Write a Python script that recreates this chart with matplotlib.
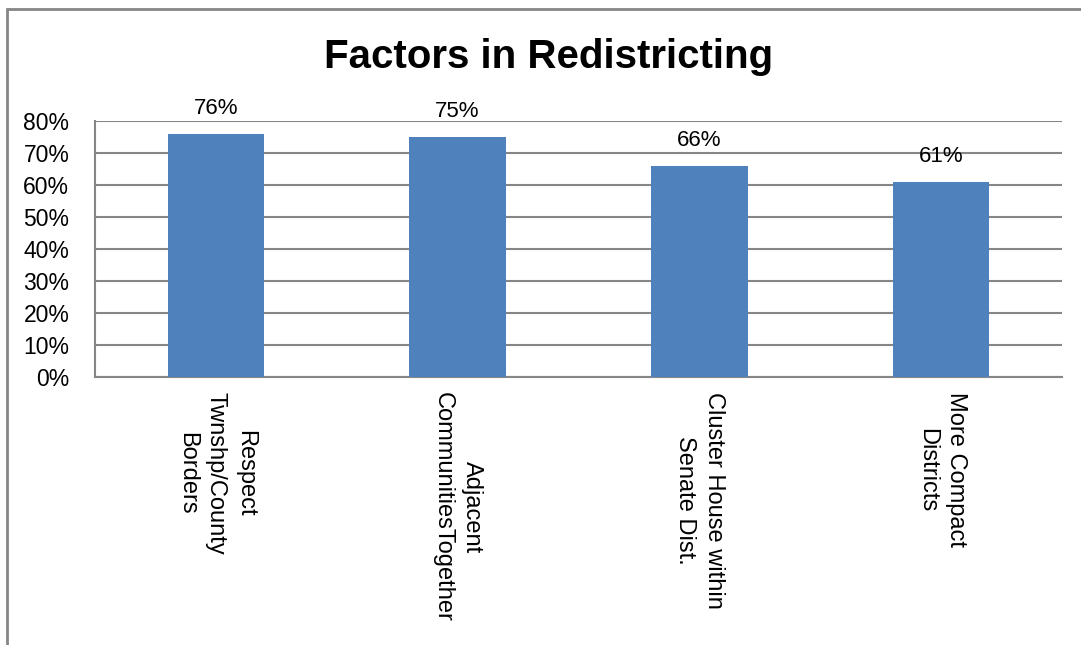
import numpy as np
import matplotlib
matplotlib.use("Agg")
import matplotlib.pyplot as plt
from matplotlib.patches import Rectangle
from matplotlib.ticker import PercentFormatter

categories = [
    "Respect\nTwnshp/County\nBorders",
    "Adjacent\nCommunitiesTogether",
    "Cluster House within\nSenate Dist.",
    "More Compact\nDistricts",
]
shares = [0.76, 0.75, 0.66, 0.61]
y_ticks = [0.0, 0.1, 0.2, 0.3, 0.4, 0.5, 0.6, 0.7, 0.8]

W, H = 1081, 645
plt.rcParams['font.family'] = ['Liberation Sans', 'DejaVu Sans']
grey = "#868686"

fig = plt.figure(figsize=(W / 100, H / 100), dpi=100)
ax = fig.add_axes([95 / W, (H - 377) / H, (1062 - 95) / W, (377 - 121) / H])

# outer chart frame (cut off at right / bottom like the screenshot)
fig.patches.append(Rectangle((7 / W, -0.2), 1.5, 1.2 - 9 / H,
                             transform=fig.transFigure, fill=False,
                             edgecolor=grey, linewidth=2))

x = np.arange(len(categories))
bars = ax.bar(x, shares, width=0.4, color="#4F81BD", zorder=3)

for rect, val in zip(bars, shares):
    ax.annotate(f"{val:.0%}", (rect.get_x() + rect.get_width() / 2, val),
                xytext=(0, 11), textcoords="offset points",
                ha="center", va="bottom", fontsize=16)

ax.set_xlim(-0.5, len(categories) - 0.5)
ax.set_ylim(0, 0.8)
ax.set_yticks(y_ticks)
ax.yaxis.set_major_formatter(PercentFormatter(1.0, decimals=0))
ax.grid(axis="y", color=grey, linewidth=1.5, zorder=0)
ax.set_xticks(x)
ax.set_xticklabels(categories, rotation=270, ha="center", va="top",
                   multialignment="center", linespacing=1.4, fontsize=17)
ax.tick_params(axis="x", length=0, pad=11)
ax.tick_params(axis="y", length=0, pad=18.5, labelsize=16.5)
for side in ["top", "right"]:
    ax.spines[side].set_visible(False)
for side in ["left", "bottom"]:
    ax.spines[side].set_color(grey)
    ax.spines[side].set_linewidth(1.5)

fig.text(549 / W, 1 - 68 / H, "Factors in Redistricting", ha="center",
         va="baseline", fontsize=29, fontweight="bold")

fig.savefig("out.png", dpi=100)
